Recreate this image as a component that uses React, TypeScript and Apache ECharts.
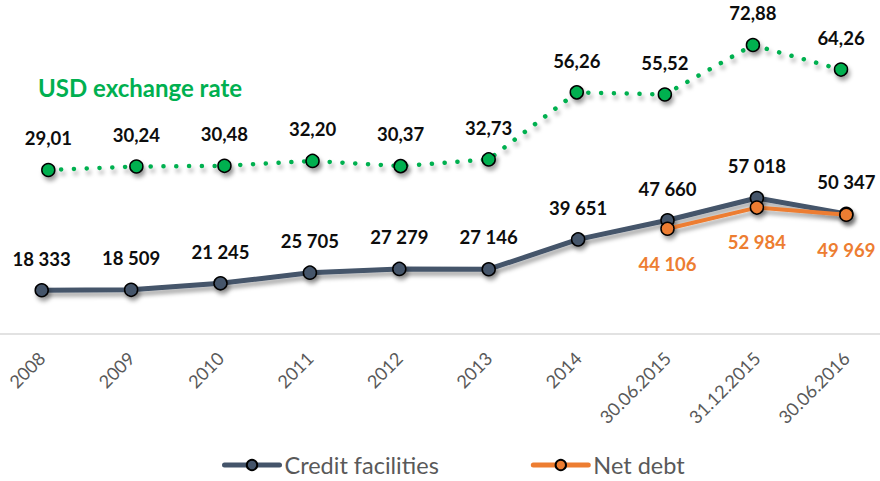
import React, { useEffect, useRef } from "react";
import * as echarts from "echarts";

const categories = ["2008", "2009", "2010", "2011", "2012", "2013", "2014", "30.06.2015", "31.12.2015", "30.06.2016"];
const creditFacilities = [18333, 18509, 21245, 25705, 27279, 27146, 39651, 47660, 57018, 50347];
const netDebt = [null, null, null, null, null, null, null, 44106, 52984, 49969];
const usdRate = [29.01, 30.24, 30.48, 32.2, 30.37, 32.73, 56.26, 55.52, 72.88, 64.26];

const fmtThousands = (v: number) => String(Math.round(v)).replace(/\B(?=(\d{3})+(?!\d))/g, " ");
const fmtRate = (v: number) => v.toFixed(2).replace(".", ",");

const shadow = { shadowColor: "rgba(0,0,0,0.35)", shadowBlur: 4, shadowOffsetX: 2, shadowOffsetY: 4 };

export default function App() {
  const ref = useRef<HTMLDivElement>(null);
  useEffect(() => {
    if (!ref.current) return;
    const chart = echarts.init(ref.current, null, { renderer: "svg" });
    const labelBase = { fontFamily: "Lato", fontWeight: "bold", fontSize: 18.5, color: "#0D0D0D" };
    chart.setOption({
      animation: false,
      backgroundColor: "#ffffff",
      grid: [
        { left: 41.7, right: 33.7, top: 0, bottom: 147 },
        { left: 48.3, right: 39, top: 0, bottom: 147 },
      ],
      xAxis: [
        {
          type: "category",
          gridIndex: 0,
          data: categories,
          boundaryGap: false,
          axisLine: { show: false },
          axisTick: { show: false },
          splitLine: { show: false },
          axisLabel: { rotate: 45, margin: 21, interval: 0, color: "#595959", fontFamily: "Lato", fontSize: 18 },
        },
        { type: "category", gridIndex: 1, data: categories, boundaryGap: false, show: false },
      ],
      yAxis: [
        { type: "value", gridIndex: 0, min: 0, max: 140000, show: false, splitLine: { show: false } },
        { type: "value", gridIndex: 1, min: -28.55, max: 88.68, show: false, splitLine: { show: false } },
      ],
      legend: {
        data: [
          { name: "Credit facilities", lineStyle: { width: 5, cap: "round" } },
          { name: "Net debt", lineStyle: { width: 5, cap: "round" } },
        ],
        left: 222,
        top: 453,
        padding: 0,
        itemWidth: 55,
        itemHeight: 13,
        itemGap: 92,
        textStyle: { color: "#595959", fontFamily: "Lato", fontSize: 23.5 },
      },
      graphic: [
        { type: "line", shape: { x1: 0, y1: 334, x2: 880, y2: 334 }, style: { stroke: "#D9D9D9", lineWidth: 1.5 } },
        {
          type: "text",
          x: 38,
          y: 87,
          style: {
            text: "USD exchange rate",
            fill: "#00B050",
            font: "bold 24px Lato",
            textVerticalAlign: "middle",
          },
        },
      ],
      series: [
        {
          name: "USD exchange rate",
          type: "line",
          xAxisIndex: 1,
          yAxisIndex: 1,
          data: usdRate,
          symbol: "circle",
          symbolSize: 13,
          lineStyle: { color: "#00B050", width: 4.5, type: [0.1, 12.7], cap: "round", ...shadow },
          itemStyle: { color: "#00B050", borderColor: "#000", borderWidth: 1.5, ...shadow },
          label: { show: true, position: "top", distance: 15, formatter: (p: any) => fmtRate(p.value), ...labelBase },
          z: 2,
        },
        {
          name: "Credit facilities",
          type: "line",
          xAxisIndex: 0,
          yAxisIndex: 0,
          data: creditFacilities,
          symbol: "circle",
          symbolSize: 13,
          lineStyle: { color: "#44546A", width: 5, ...shadow },
          itemStyle: { color: "#44546A", borderColor: "#000", borderWidth: 1.5, ...shadow },
          label: { show: true, position: "top", distance: 15, formatter: (p: any) => fmtThousands(p.value), ...labelBase },
          z: 3,
        },
        {
          name: "Net debt",
          type: "line",
          xAxisIndex: 0,
          yAxisIndex: 0,
          data: netDebt,
          symbol: "circle",
          symbolSize: 13,
          lineStyle: { color: "#ED7D31", width: 4, ...shadow },
          itemStyle: { color: "#ED7D31", borderColor: "#000", borderWidth: 1.5, ...shadow },
          label: {
            show: true,
            position: "bottom",
            distance: 18,
            formatter: (p: any) => (p.value == null ? "" : fmtThousands(p.value)),
            ...labelBase,
            color: "#ED7D31",
          },
          z: 4,
        },
      ],
    });
    return () => chart.dispose();
  }, []);
  return <div ref={ref} style={{ position: "absolute", left: 0, top: 0, width: 880, height: 481 }} />;
}
